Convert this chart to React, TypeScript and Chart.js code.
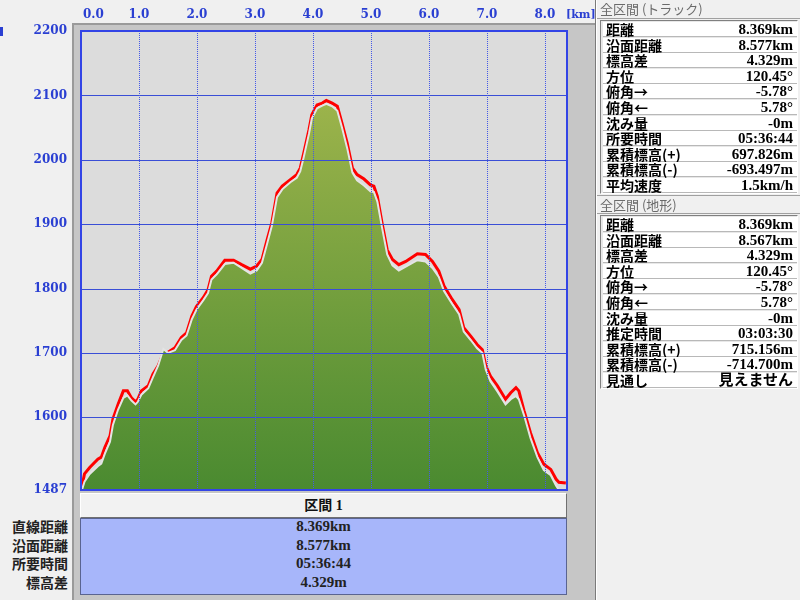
import React, { useEffect, useRef } from "react";
import { Chart, registerables } from "chart.js";

Chart.register(...registerables);

// ---- data ----
const distanceKm = [
  0, 0.02, 0.06, 0.15, 0.29, 0.35, 0.41, 0.5, 0.55, 0.64,
  0.73, 0.8, 0.87, 0.94, 0.98, 1.04, 1.16, 1.24, 1.33, 1.42,
  1.5, 1.62, 1.73, 1.82, 1.91, 1.99, 2.11, 2.19, 2.25, 2.34,
  2.48, 2.63, 2.77, 2.92, 3.03, 3.12, 3.21, 3.29, 3.38, 3.47,
  3.61, 3.72, 3.78, 3.84, 3.93, 3.98, 4.07, 4.16, 4.23, 4.33,
  4.42, 4.5, 4.59, 4.68, 4.76, 4.88, 4.99, 5.05, 5.11, 5.19,
  5.28, 5.37, 5.48, 5.6, 5.8, 5.94, 6.06, 6.17, 6.26, 6.4,
  6.52, 6.6, 6.72, 6.83, 6.92, 6.98, 7.06, 7.18, 7.32, 7.41,
  7.5, 7.55, 7.64, 7.75, 7.87, 7.98, 8.1, 8.19, 8.24, 8.36,
];

const trackElevation = [
  1489, 1494, 1512, 1522, 1535, 1538, 1553, 1571, 1597, 1620,
  1641, 1641, 1630, 1624, 1628, 1641, 1649, 1667, 1680, 1700,
  1701, 1708, 1724, 1731, 1757, 1772, 1786, 1798, 1819, 1827,
  1844, 1844, 1837, 1830, 1835, 1845, 1876, 1902, 1948, 1959,
  1969, 1977, 1987, 2010, 2046, 2070, 2085, 2088, 2092, 2088,
  2083, 2057, 2026, 1987, 1977, 1970, 1961, 1959, 1943, 1902,
  1860, 1845, 1837, 1842, 1854, 1853, 1842, 1827, 1804, 1783,
  1767, 1739, 1726, 1713, 1705, 1680, 1664, 1649, 1628, 1638,
  1646, 1641, 1610, 1576, 1545, 1527, 1519, 1504, 1499, 1498,
];

const terrainElevation = [
  1487, 1488, 1500, 1512, 1524, 1528, 1543, 1562, 1588, 1612,
  1630, 1634, 1626, 1620, 1624, 1635, 1645, 1662, 1680, 1706,
  1700, 1704, 1720, 1727, 1752, 1767, 1782, 1793, 1814, 1822,
  1838, 1840, 1832, 1823, 1828, 1840, 1870, 1897, 1942, 1954,
  1965, 1972, 1982, 2004, 2040, 2064, 2080, 2084, 2087, 2083,
  2076, 2050, 2018, 1980, 1968, 1960, 1951, 1950, 1935, 1895,
  1853, 1836, 1828, 1834, 1844, 1842, 1832, 1818, 1796, 1776,
  1760, 1733, 1720, 1707, 1700, 1674, 1656, 1640, 1620, 1628,
  1633, 1628, 1603, 1568, 1538, 1518, 1510, 1494, 1487, 1487,
];

const xTickValues = [0, 1, 2, 3, 4, 5, 6, 7, 8];
const yTickValues = [2200, 2100, 2000, 1900, 1800, 1700, 1600, 1487];
const xUnitLabel = "[km]";
const X_MIN = 0;
const X_MAX = 8.38;
const Y_MIN = 1487;
const Y_MAX = 2200;

const trackHeader = "全区間 (トラック)";
const trackLabels = ["距離", "沿面距離", "標高差", "方位", "俯角→", "俯角←", "沈み量", "所要時間", "累積標高(+)", "累積標高(-)", "平均速度"];
const trackValues = ["8.369km", "8.577km", "4.329m", "120.45°", "-5.78°", "5.78°", "-0m", "05:36:44", "697.826m", "-693.497m", "1.5km/h"];

const terrainHeader = "全区間 (地形)";
const terrainLabels = ["距離", "沿面距離", "標高差", "方位", "俯角→", "俯角←", "沈み量", "推定時間", "累積標高(+)", "累積標高(-)", "見通し"];
const terrainValues = ["8.369km", "8.567km", "4.329m", "120.45°", "-5.78°", "5.78°", "-0m", "03:03:30", "715.156m", "-714.700m", "見えません"];

const sectionTitle = "区間 1";
const sectionLabels = ["直線距離", "沿面距離", "所要時間", "標高差"];
const sectionValues = ["8.369km", "8.577km", "05:36:44", "4.329m"];

// ---- styling ----
const AXIS_BLUE = "#2a3fd2";
const FONT = '"Liberation Serif", "Noto Sans CJK JP", serif';
const LABEL_FONT = '"Noto Sans CJK JP", sans-serif';

const decorPlugin = {
  id: "profileDecor",
  beforeDatasetsDraw(chart: any) {
    const { ctx, chartArea: a } = chart;
    ctx.save();
    ctx.fillStyle = "#dcdcdc";
    ctx.fillRect(a.left, a.top, a.right - a.left, a.bottom - a.top);
    ctx.restore();
  },
  afterDatasetDraw(chart: any, args: any) {
    if (args.index !== 0) return;
    const { ctx, chartArea: a, scales } = chart;
    const x = scales.x;
    const y = scales.y;
    ctx.save();
    ctx.lineWidth = 1;
    ctx.strokeStyle = "#3a4ed6";
    for (const v of yTickValues) {
      if (v === Y_MIN || v === Y_MAX) continue;
      const py = Math.round(y.getPixelForValue(v)) + 0.5;
      ctx.beginPath();
      ctx.moveTo(a.left, py);
      ctx.lineTo(a.right, py);
      ctx.stroke();
    }
    ctx.setLineDash([1, 1]);
    ctx.strokeStyle = "#4458e8";
    for (const v of xTickValues) {
      if (v === X_MIN) continue;
      const px = Math.round(x.getPixelForValue(v)) + 0.5;
      ctx.beginPath();
      ctx.moveTo(px, a.top);
      ctx.lineTo(px, a.bottom);
      ctx.stroke();
    }
    ctx.restore();
  },
  afterDraw(chart: any) {
    const { ctx, chartArea: a, scales } = chart;
    const x = scales.x;
    const y = scales.y;
    ctx.save();
    ctx.strokeStyle = "#3344e6";
    ctx.lineWidth = 2;
    ctx.strokeRect(a.left, a.top, a.right - a.left, a.bottom - a.top);

    ctx.fillStyle = AXIS_BLUE;
    ctx.font = 'bold 12px "DejaVu Serif"';
    ctx.textBaseline = "middle";
    ctx.textAlign = "right";
    for (const v of yTickValues) {
      ctx.fillText(String(v), 67, y.getPixelForValue(v));
    }
    for (const v of xTickValues) {
      const px = x.getPixelForValue(v);
      const label = v.toFixed(1);
      if (v === X_MIN) {
        ctx.textAlign = "left";
        ctx.fillText(label, px + 2, 15);
      } else {
        ctx.textAlign = "center";
        ctx.fillText(label, px, 15);
      }
    }
    ctx.textAlign = "left";
    ctx.font = 'bold 11px "DejaVu Serif"';
    ctx.fillText(xUnitLabel, a.right - 1, 15);
    ctx.restore();
  },
};

function ProfileChart() {
  const ref = useRef<HTMLCanvasElement | null>(null);
  useEffect(() => {
    if (!ref.current) return;
    const chart = new Chart(ref.current, {
      type: "line",
      data: {
        datasets: [
          {
            label: "地形",
            data: distanceKm.map((d, i) => ({ x: d, y: terrainElevation[i] })),
            borderColor: "#e4e4e4",
            borderWidth: 2,
            pointRadius: 0,
            tension: 0,
            fill: "start",
            backgroundColor: (c: any) => {
              const ch = c.chart;
              const a = ch.chartArea;
              if (!a) return "#6e9a3a";
              const g = ch.ctx.createLinearGradient(0, a.top, 0, a.bottom);
              g.addColorStop(0, "#abbb50");
              g.addColorStop(1, "#4a8a30");
              return g;
            },
          },
          {
            label: "トラック",
            data: distanceKm.map((d, i) => ({ x: d, y: trackElevation[i] })),
            borderColor: "#ff0000",
            borderWidth: 3,
            pointRadius: 0,
            tension: 0,
            fill: false,
          },
        ],
      },
      options: {
        responsive: false,
        animation: false,
        devicePixelRatio: 1,
        layout: { padding: { left: 81, top: 31, right: 31, bottom: 3 } },
        plugins: { legend: { display: false }, tooltip: { enabled: false } },
        scales: {
          x: { type: "linear", min: X_MIN, max: X_MAX, display: false },
          y: { type: "linear", min: Y_MIN, max: Y_MAX, display: false },
        },
      },
      plugins: [decorPlugin],
    } as any);
    return () => chart.destroy();
  }, []);
  return (
    <canvas
      ref={ref}
      width={598}
      height={493}
      style={{ position: "absolute", left: 0, top: 0, width: 598, height: 493 }}
    />
  );
}

function InfoBlock({ header, labels, values, top }: { header: string; labels: string[]; values: string[]; top: number }) {
  const rowTop = top + 22;
  return (
    <>
      <div
        style={{
          position: "absolute",
          left: 597,
          top,
          width: 203,
          height: 19,
          boxSizing: "border-box",
          borderBottom: "1px solid #a0a0a0",
          borderTop: top > 0 ? "1px solid #a0a0a0" : "none",
          background: "#f0f0f0",
          color: "#6a6a6a",
          fontFamily: LABEL_FONT,
          fontSize: 13,
          lineHeight: "18px",
          paddingLeft: 3,
          whiteSpace: "nowrap",
        }}
      >
        {header}
      </div>
      <div
        style={{
          position: "absolute",
          left: 600,
          top: top + 20,
          width: 198,
          height: 174,
          boxSizing: "border-box",
          borderLeft: "1px solid #808080",
          borderTop: "1px solid #808080",
          borderRight: "1px solid #ffffff",
          borderBottom: "1px solid #ffffff",
          background: "#e8e8e8",
        }}
      />
      {labels.map((l, i) => (
        <div
          key={l + i}
          style={{
            position: "absolute",
            left: 603,
            top: Math.round(rowTop + i * 15.6),
            width: 194,
            height: 15,
            boxSizing: "border-box",
            background: "#ffffff",
            borderBottom: "1px solid #b8b8b8",
            display: "flex",
            justifyContent: "space-between",
            alignItems: "center",
            fontWeight: "bold",
            fontSize: 15,
            lineHeight: "15px",
            color: "#000",
            padding: "0 4px 0 3px",
            whiteSpace: "nowrap",
          }}
        >
          <span style={{ fontFamily: LABEL_FONT, fontSize: 14 }}>{l}</span>
          <span style={{ fontFamily: FONT }}>{values[i]}</span>
        </div>
      ))}
    </>
  );
}

export default function App() {
  return (
    <div
      style={{
        position: "fixed",
        left: 0,
        top: 0,
        width: 800,
        height: 600,
        background: "#f0f0f0",
        overflow: "hidden",
        fontFamily: FONT,
      }}
    >
      <div style={{ position: "absolute", left: 0, top: 27, width: 3, height: 9, background: AXIS_BLUE }} />
      <div
        style={{
          position: "absolute",
          left: 72,
          top: 23,
          width: 523,
          height: 577,
          boxSizing: "border-box",
          background: "#c6c6c6",
          borderLeft: "2px solid #9a9a9a",
          borderTop: "2px solid #9a9a9a",
        }}
      />
      <ProfileChart />
      <div
        style={{
          position: "absolute",
          left: 80,
          top: 493,
          width: 487,
          height: 25,
          boxSizing: "border-box",
          background: "#f2f2f2",
          borderTop: "1px solid #ffffff",
          borderLeft: "1px solid #ffffff",
          borderRight: "1px solid #707070",
          borderBottom: "1px solid #707070",
          textAlign: "center",
          fontWeight: "bold",
          fontSize: 14,
          lineHeight: "23px",
          color: "#111",
        }}
      >
        {sectionTitle}
      </div>
      <div
        style={{
          position: "absolute",
          left: 80,
          top: 518,
          width: 487,
          height: 77,
          boxSizing: "border-box",
          background: "#a7b6fa",
          border: "1px solid #5a6490",
        }}
      />
      {sectionValues.map((v, i) => (
        <div
          key={"sv" + i}
          style={{
            position: "absolute",
            left: 81,
            top: 517 + i * 18.7,
            width: 485,
            height: 19,
            textAlign: "center",
            fontWeight: "bold",
            fontSize: 15,
            lineHeight: "19px",
            color: "#222",
          }}
        >
          {v}
        </div>
      ))}
      {sectionLabels.map((l, i) => (
        <div
          key={"sl" + i}
          style={{
            position: "absolute",
            left: 0,
            top: 517 + i * 18.7,
            width: 68,
            height: 19,
            textAlign: "right",
            fontWeight: "bold",
            fontFamily: LABEL_FONT,
            fontSize: 14,
            lineHeight: "19px",
            color: "#222",
            whiteSpace: "nowrap",
          }}
        >
          {l}
        </div>
      ))}
      <div style={{ position: "absolute", left: 595, top: 0, width: 1, height: 600, background: "#7a7a7a" }} />
      <div style={{ position: "absolute", left: 596, top: 0, width: 1, height: 600, background: "#ffffff" }} />
      <InfoBlock header={trackHeader} labels={trackLabels} values={trackValues} top={0} />
      <InfoBlock header={terrainHeader} labels={terrainLabels} values={terrainValues} top={195} />
    </div>
  );
}
